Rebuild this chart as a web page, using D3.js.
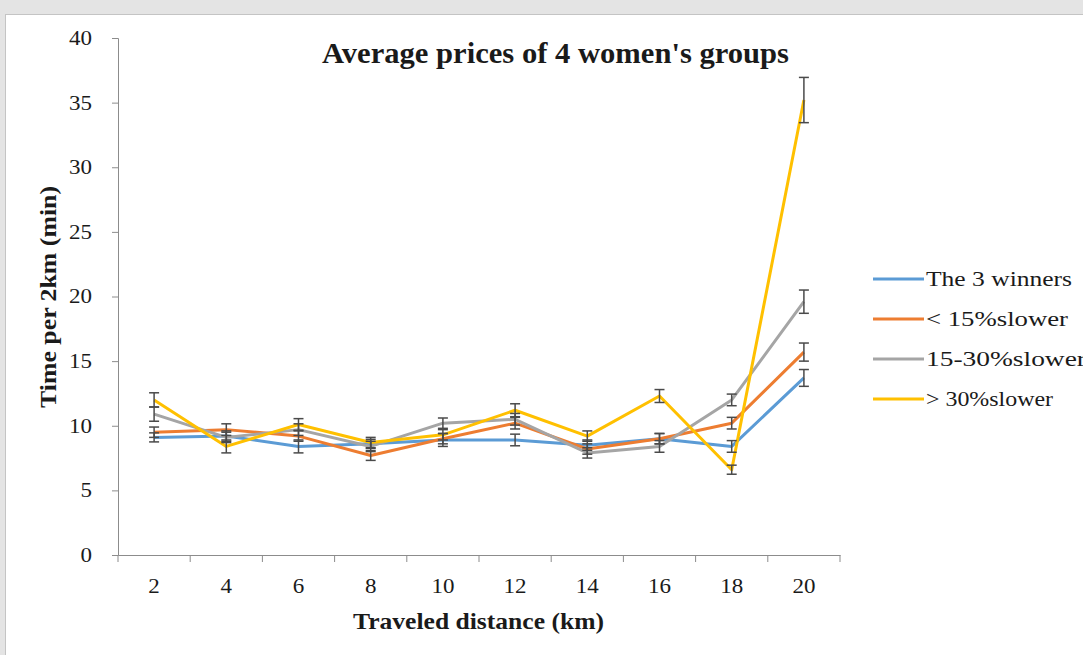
<!DOCTYPE html>
<html>
<head>
<meta charset="utf-8">
<script src="https://cdn.jsdelivr.net/npm/d3@7/dist/d3.min.js"></script>
<style>
  html, body { margin: 0; padding: 0; background: #e4e4e4; }
  svg { display: block; }
  text { font-family: "Liberation Serif", "Times New Roman", serif; fill: #1a1a1a; }
</style>
</head>
<body>
<svg id="chart"></svg>
<script>
// data
var categories = [2, 4, 6, 8, 10, 12, 14, 16, 18, 20]
var seriesNames = ["The 3 winners", "< 15%slower", "15-30%slower", "> 30%slower"]
var winners = [9.1, 9.2, 8.4, 8.6, 8.9, 8.9, 8.5, 9.0, 8.4, 13.7]
var under15 = [9.5, 9.7, 9.2, 7.7, 9.0, 10.2, 8.2, 9.0, 10.2, 15.7]
var mid1530 = [10.9, 9.1, 9.7, 8.4, 10.2, 10.5, 7.9, 8.4, 12.0, 19.6]
var over30 = [12.0, 8.4, 10.1, 8.7, 9.3, 11.2, 9.2, 12.3, 6.6, 35.2]
var winnersErr = [0.35, 0.4, 0.5, 0.35, 0.5, 0.45, 0.4, 0.4, 0.45, 0.65]
var under15Err = [0.4, 0.45, 0.4, 0.38, 0.4, 0.45, 0.4, 0.4, 0.45, 0.7]
var mid1530Err = [0.55, 0.4, 0.45, 0.4, 0.4, 0.45, 0.4, 0.45, 0.45, 0.9]
var over30Err = [0.55, 0.5, 0.45, 0.4, 0.4, 0.5, 0.4, 0.5, 0.35, 1.75]
var yTicks = [0, 5, 10, 15, 20, 25, 30, 35, 40]
var colors = ["#5b9bd5", "#ed7d31", "#a5a5a5", "#ffc000"]

var series = [winners, under15, mid1530, over30].map((vals, i) => ({
  name: seriesNames[i],
  color: colors[i],
  points: vals.map((v, j) => ({cat: categories[j], v: v,
    err: [winnersErr, under15Err, mid1530Err, over30Err][i][j]}))
}))

var width = 1083,
    height = 655,
    svg = d3.select("#chart").attr("width", width).attr("height", height)

// white panel
svg.append("rect")
  .attr("x", 5.5).attr("y", 14.5)
  .attr("width", width).attr("height", height)
  .attr("fill", "#fff")
  .attr("stroke", "#c4c4c4")

var x = d3.scaleBand().domain(categories).range([118, 840]).padding(0),
    y = d3.scaleLinear().domain([0, 40]).range([555, 38]),
    cx = (d) => x(d) + x.bandwidth() / 2

// tick labels in the picture are a bit wider than plain Times
function widen(sel) {
  sel.attr("font-size", 20)
    .style("font-family", "Liberation Serif")
    .attr("fill", "#222")
    .attr("textLength", function () { return this.textContent.length * 11.5 })
    .attr("lengthAdjust", "spacingAndGlyphs")
}

// y axis
var yAxis = svg.append("g")
  .attr("transform", "translate(118,0)")
  .call(d3.axisLeft(y).tickValues(yTicks).tickSize(6).tickPadding(20))
yAxis.select(".domain").attr("stroke", "#8c8c8c")
yAxis.selectAll(".tick line").attr("stroke", "#8c8c8c")
yAxis.selectAll("text").call(widen)

// x axis, labels centred, ticks on band edges
var xAxis = svg.append("g")
  .attr("transform", "translate(0,555)")
  .call(d3.axisBottom(x).tickSize(0).tickPadding(24))
xAxis.select(".domain").attr("stroke", "#8c8c8c")
xAxis.selectAll("text").call(widen)
svg.append("g")
  .selectAll("line")
  .data(categories.map((c) => x(c)).concat([x.range()[1]]))
  .enter().append("line")
    .attr("x1", (d) => d).attr("x2", (d) => d)
    .attr("y1", 555).attr("y2", 562)
    .attr("stroke", "#8c8c8c")

// lines
var line = d3.line().x((d) => cx(d.cat)).y((d) => y(d.v))

svg.append("g")
  .selectAll("path")
  .data(series)
  .enter().append("path")
    .attr("d", (d) => line(d.points))
    .attr("fill", "none")
    .attr("stroke", (d) => d.color)
    .attr("stroke-width", 3)
    .attr("stroke-linejoin", "round")

// error bars
var bars = svg.append("g")
  .selectAll("g")
  .data(series.flatMap((s) => s.points))
  .enter().append("g")
    .attr("stroke", "#4a4a4a")
    .attr("stroke-width", 1.5)

bars.append("line")
  .attr("x1", (d) => cx(d.cat)).attr("x2", (d) => cx(d.cat))
  .attr("y1", (d) => y(d.v - d.err)).attr("y2", (d) => y(d.v + d.err))
bars.append("line")
  .attr("x1", (d) => cx(d.cat) - 5).attr("x2", (d) => cx(d.cat) + 5)
  .attr("y1", (d) => y(d.v + d.err)).attr("y2", (d) => y(d.v + d.err))
bars.append("line")
  .attr("x1", (d) => cx(d.cat) - 5).attr("x2", (d) => cx(d.cat) + 5)
  .attr("y1", (d) => y(d.v - d.err)).attr("y2", (d) => y(d.v - d.err))

// title
svg.append("text")
  .attr("x", 322).attr("y", 63)
  .attr("font-size", 29).attr("font-weight", "bold")
  .attr("textLength", 467).attr("lengthAdjust", "spacingAndGlyphs")
  .text("Average prices of 4 women's groups")

// axis titles
svg.append("text")
  .attr("x", 353).attr("y", 629)
  .attr("font-size", 24).attr("font-weight", "bold")
  .attr("textLength", 251).attr("lengthAdjust", "spacingAndGlyphs")
  .text("Traveled distance (km)")

svg.append("text")
  .attr("transform", "translate(56,297) rotate(-90)")
  .attr("text-anchor", "middle")
  .attr("font-size", 24).attr("font-weight", "bold")
  .attr("textLength", 222).attr("lengthAdjust", "spacingAndGlyphs")
  .text("Time per 2km (min)")

// legend
var legendLen = [146, 142, 160, 127]
var legend = svg.append("g")
  .selectAll("g")
  .data(series)
  .enter().append("g")
    .attr("transform", (d, i) => `translate(873,${279 + i * 40})`)

legend.append("line")
  .attr("x1", 0).attr("x2", 51)
  .attr("stroke", (d) => d.color)
  .attr("stroke-width", 3)
legend.append("text")
  .attr("x", 53).attr("y", 7)
  .attr("font-size", 21)
  .attr("textLength", (d, i) => legendLen[i])
  .attr("lengthAdjust", "spacingAndGlyphs")
  .text((d) => d.name)
</script>
</body>
</html>
